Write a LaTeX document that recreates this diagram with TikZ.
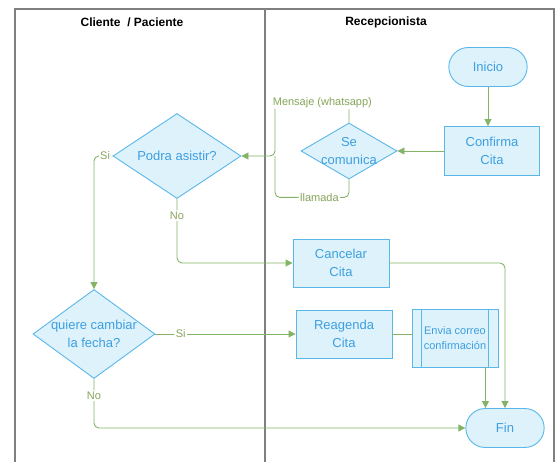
\documentclass[tikz,border=0pt]{standalone}
\usepackage{fontspec}
\setmainfont{Liberation Sans}
\usetikzlibrary{shapes.geometric,shapes.misc,arrows.meta}

\definecolor{boxfill}{HTML}{DEF2FC}
\definecolor{boxline}{HTML}{5AB7EA}
\definecolor{boxtext}{HTML}{3D9FDF}
\definecolor{flowline}{HTML}{82B366}
\definecolor{flowtext}{HTML}{86A55A}
\definecolor{laneline}{HTML}{7F7F7F}

\tikzset{
	terminal/.style={rounded rectangle,draw=boxline,fill=boxfill,text=boxtext,line width=0.9pt,
		minimum width=85pt,minimum height=39pt,font=\fontsize{13}{18}\selectfont},
	process/.style={rectangle,draw=boxline,fill=boxfill,text=boxtext,line width=0.9pt,
		minimum width=96pt,minimum height=48pt,align=center,font=\fontsize{13}{18}\selectfont},
	decision/.style={diamond,draw=boxline,fill=boxfill,line width=0.9pt,inner sep=0pt},
	dtext/.style={text=boxtext,align=center,font=\fontsize{13}{18}\selectfont},
	flow/.style={draw=flowline,line width=0.9pt,rounded corners=5pt,-{Triangle[length=7pt,width=7pt]}},
	link/.style={draw=flowline,line width=0.9pt,rounded corners=5pt},
	elabel/.style={fill=white,text=flowtext,inner sep=1.5pt,font=\fontsize{11}{13}\selectfont},
	lane/.style={draw=laneline,line width=1.3pt},
	header/.style={font=\bfseries\fontsize{12}{14}\selectfont}
}

\begin{document}
\begin{tikzpicture}[x=1pt,y=-1pt]
	\useasboundingbox (0,0) rectangle (555,462);

	% swimlanes
	\draw[lane] (15,462) -- (15,9) -- (554,9) -- (554,462);
	\draw[lane] (265,9) -- (265,462);
	\node[header] (hcliente) at (132,22) {Cliente~ / Paciente};
	\node[header] (hrecep) at (386,22) {Recepcionista};

	% recepcionista
	\node[terminal] (inicio) at (488,67) {Inicio};
	\node[process,minimum width=95pt,minimum height=49pt] (confirma) at (492,151) {Confirma\\Cita};
	\node[decision,minimum width=96pt,minimum height=56pt,label={[dtext]center:Se\\comunica}] (secom) at (349,151) {};
	\node[process] (cancelar) at (341,263) {Cancelar\\Cita};
	\node[process] (reagenda) at (344,334) {Reagenda\\Cita};
	\node[process,minimum width=86pt,minimum height=58pt,font=\fontsize{11}{15}\selectfont] (envia) at (455,338) {Envia correo\\confirmación};
	\draw[boxline,line width=0.9pt] ([xshift=10pt]envia.north west) -- ([xshift=10pt]envia.south west)
		([xshift=-10pt]envia.north east) -- ([xshift=-10pt]envia.south east);
	\node[terminal] (fin) at (505,428) {Fin};

	% cliente / paciente
	\node[decision,minimum width=128pt,minimum height=85pt,label={[dtext]center:Podra asistir?}] (podra) at (177,156) {};
	\node[decision,minimum width=122pt,minimum height=89pt,label={[dtext]center:quiere cambiar\\la fecha?}] (quiere) at (94,334) {};

	\coordinate (join) at (275,156);

	\path[flow] (inicio.south) -- (inicio.south |- confirma.north);
	\path[flow] (confirma) -- (secom);
	\path[flow] (secom.north) -- ++(0,-20) -| node[elabel,pos=0.18] {Mensaje (whatsapp)} (join) -- (podra.east);
	\path[link] (secom.south) -- ++(0,18) -| node[elabel,pos=0.2] {llamada} (join);
	\path[flow] (podra.west) -| node[elabel,pos=0.2] {Si} (quiere.north);
	\path[flow] (podra.south) |- node[elabel,pos=0.13] {No} (cancelar.west);
	\path[flow] (cancelar.east) -| (fin.north);
	\path[flow] (quiere.east) -- node[elabel,pos=0.18] {Si} (reagenda.west);
	\path[flow] (quiere.south) |- node[elabel,pos=0.17] {No} (fin.west);
	\path[link] (reagenda.east) -- (reagenda.east -| envia.west);
	\path[flow] ([xshift=-13pt]envia.south east) -- ([xshift=-13pt]envia.south east |- fin.north);
\end{tikzpicture}
\end{document}
